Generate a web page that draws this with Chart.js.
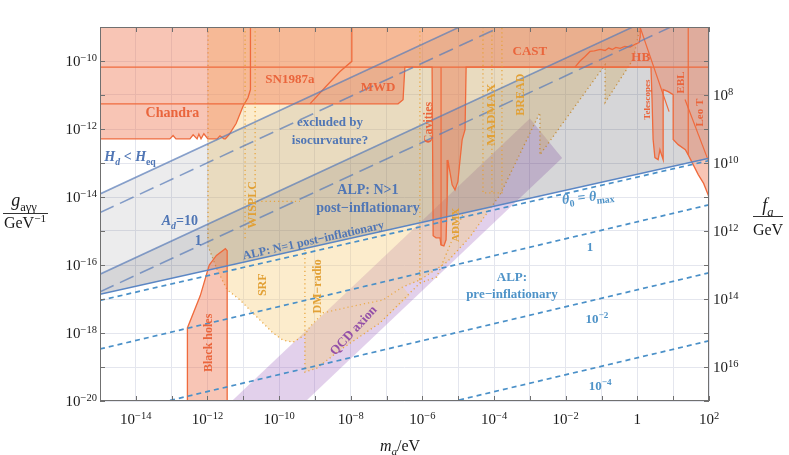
<!DOCTYPE html>
<html><head><meta charset="utf-8">
<script src="https://cdn.jsdelivr.net/npm/chart.js@4/dist/chart.umd.min.js"></script>
<style>html,body{margin:0;padding:0;background:#fff}</style>
</head><body>
<canvas id="c" width="789" height="455"></canvas>
<script>
// ---------- axis ranges (log10 values) ----------
const xRangeLog = [-15, 2];          // m_a / eV
const yRangeLog = [-20, -9];         // g_aγγ / GeV^-1
const faRangeLog = [6, 17];          // f_a / GeV (reversed)
const xTickExps = [-14, -12, -10, -8, -6, -4, -2, 0, 2];
const yTickExps = [-20, -18, -16, -14, -12, -10];
const faTickExps = [8, 10, 12, 14, 16];

// ---------- regions: [log10 m/eV, log10 g/GeV^-1] ----------
const orangeExcluded = [[-15,-9],[2,-9],[2,-14.0],[1.85,-13.6],[1.70,-13.34],[1.42,-12.76],[1.34,-12.61],[1.14,-12.46],[1.0,-12.31],[1.0,-10.99],[0.86,-10.90],[0.72,-10.84],[0.72,-12.90],[0.63,-12.61],[0.58,-12.90],[0.49,-12.84],[0.44,-12.31],[0.41,-11.14],[0.38,-10.18],
 [-4.78,-10.18],[-4.81,-12.02],[-4.89,-12.31],[-4.95,-12.91],[-5.01,-13.55],[-5.09,-13.79],[-5.17,-13.64],[-5.29,-12.91],[-5.31,-14.08],[-5.34,-15.26],[-5.40,-15.44],[-5.48,-15.41],[-5.51,-15.20],[-5.62,-15.20],[-5.70,-15.14],[-5.73,-10.18],
 [-6.49,-10.18],[-6.54,-11.14],[-6.68,-11.26],[-10.97,-11.26],[-11.01,-11.34],[-11.20,-11.84],[-11.40,-12.17],[-11.50,-12.29],[-11.54,-12.29],[-11.65,-12.20],[-11.73,-12.29],[-11.99,-12.29],[-12.10,-12.14],[-12.18,-12.29],[-12.24,-12.15],[-12.29,-12.29],[-12.40,-12.17],[-12.49,-12.29],[-12.88,-12.29],[-12.96,-12.19],[-13.05,-12.29],[-15,-12.29]];
const castLine = [[-15,-10.18],[2,-10.18]];
const snLine = [[-15,-11.26],[-10.97,-11.26]];
const chandraEdge = [[-10.80,-9],[-10.80,-10.84],[-10.87,-11.08],[-10.97,-11.26]];
const sn1987aEdge = [[-7.97,-9],[-7.97,-10.01],[-8.30,-10.31],[-8.72,-10.78],[-9.14,-11.26]];
const castCurve = [[-1.74,-10.18],[-1.6,-10.0],[-1.46,-9.87],[-1.32,-9.72],[-1.2,-9.70],[-1.04,-9.66],[-0.9,-9.69],[-0.8,-9.62],[-0.7,-9.66],[-0.6,-9.60],[-0.48,-9.63],[-0.35,-9.57],[-0.2,-9.59],[-0.05,-9.50],[0.05,-9.46],[0.075,-9.3],[0.08,-9]];
const telescopesLine = [[0.075,-9],[0.885,-11.49]];
const leoTLine = [[1.33,-11.13],[1.97,-12.90]];
const eblLine = [[1.42,-9],[1.42,-12.76]];
const cavityLine = [[-5.48,-10.18],[-5.48,-15.41]];
const blackHoles = [[-12.56,-20.3],[-12.56,-17.85],[-12.2,-16.9],[-11.95,-16.0],[-11.75,-15.72],[-11.5,-15.52],[-11.45,-15.58],[-11.45,-20.3]];
const haloscopeProj = [[-11.985,-9],[-11.985,-15.44],[-11.73,-16.14],[-11.45,-16.73],[-11.09,-17.03],[-10.62,-17.53],[-10.17,-18.0],[-9.89,-18.21],[-9.61,-18.27],[-9.28,-18.06],[-9.14,-17.82],[-8.77,-17.41],[-8.02,-17.23],[-7.10,-17.03],[-6.54,-16.64],[-6.07,-16.44],[-5.31,-15.91],[-4.67,-15.17],[-3.83,-13.93],[-2.72,-11.52],[-2.72,-12.76],[-0.90,-10.11],[-0.90,-11.22],[-0.12,-9.96],[0.075,-9]];
const dmRadioLow = [[-9.28,-18.06],[-9.28,-19.15],[-8.94,-19.03],[-8.30,-18.50],[-7.18,-17.70],[-6.35,-16.90],[-6.54,-16.64],[-7.10,-17.03],[-8.02,-17.23],[-8.77,-17.41],[-9.14,-17.82]];
const dmRadioEdge = [[-9.28,-15.55],[-9.28,-19.15],[-8.94,-19.03],[-8.30,-18.50],[-7.18,-17.70],[-6.07,-16.53],[-6.07,-16.15]];
const admxProj = [[-6.07,-16.53],[-5.6,-16.35],[-4.85,-14.45]];
const wisplcA = [[-10.95,-9],[-10.95,-15.26]];
const wisplcB = [[-10.67,-9],[-10.67,-14.13],[-9.42,-14.13]];
const cavitiesProj = [[-6.07,-9],[-6.07,-16.53]];
const madmaxBox = [[-4.31,-9],[-4.31,-13.88],[-3.78,-13.88],[-3.78,-9]];
const madmaxMid = [[-4.06,-9],[-4.06,-13.88]];
const qcdBand = [[-11.52,-20.2],[-3.0,-11.69],[-2.1,-12.85],[-9.45,-20.2]];
const greyIsocurv = [[-15,-16.86],[2,-12.86],[2,-9],[-4.95,-9],[-15,-13.91]];
const greyPostInfl = [[-15,-16.86],[2,-12.86],[2,-9],[-0.12,-9],[-15,-16.27]];
const lowerBoundary = [[-15,-16.86],[2,-12.86]];
const lineHeq = [[-15,-13.91],[-3,-8.04]];
const lineHeqDash = [[-15,-14.46],[0,-7.13]];
const lineAd10 = [[-15,-16.27],[2,-7.96]];
const lineAd1 = [[-15,-16.79],[2,-8.48]];
const thetaMax = [[-15,-17.04],[2,-12.93]];
const theta1 = [[-15,-18.47],[2,-14.23]];
const theta1e2 = [[-15,-20.47],[2,-16.23]];
const theta1e4 = [[-15,-22.47],[2,-18.23]];

// ---------- helpers ----------
const pw = v => Math.pow(10, v);
const toPts = arr => arr.map(p => ({x: pw(p[0]), y: pw(p[1])}));
function area(arr, fill, stroke, width, dash, order) {
  return {data: toPts(arr.concat([arr[0]])), fill: 'shape', backgroundColor: fill,
    borderColor: stroke || 'rgba(0,0,0,0)', borderWidth: stroke ? width : 0, borderDash: dash || [],
    order, pointRadius: 0, tension: 0, clip: 0};
}
function curve(arr, color, width, dash, order) {
  return {data: toPts(arr), fill: false, borderColor: color, borderWidth: width, borderDash: dash || [],
    order, pointRadius: 0, tension: 0, clip: 0};
}
const OR = '#ef6a3c', ORT = '#ea653c', YE = 'rgba(232,160,50,0.9)', YT = '#e2a136';
const BLT = '#5076b5', BDT = '#4f93c8', BLINE = 'rgba(90,125,185,0.72)', BDASH = '#4a90c8';

const datasets = [
  area(qcdBand, 'rgba(160,100,190,0.30)', null, 0, null, 100),
  area(haloscopeProj, 'rgba(247,205,120,0.38)', YE, 1.3, [1.2,3], 90),
  area(dmRadioLow, 'rgba(247,205,120,0.38)', null, 0, null, 89),
  curve(dmRadioEdge, YE, 1.3, [1.2,3], 88),
  curve(admxProj, YE, 1.3, [1.2,3], 88),
  area(greyIsocurv, 'rgba(40,40,50,0.085)', null, 0, null, 80),
  area(greyPostInfl, 'rgba(40,40,50,0.11)', null, 0, null, 79),
  area(orangeExcluded, 'rgba(238,110,70,0.40)', OR, 1.3, null, 60),
  area(blackHoles, 'rgba(238,110,70,0.40)', OR, 1.3, null, 59),
  curve(castLine, OR, 1.3, null, 50),
  curve(snLine, OR, 1.3, null, 50),
  curve(chandraEdge, OR, 1.3, null, 50),
  curve(sn1987aEdge, OR, 1.3, null, 50),
  curve(castCurve, OR, 1.3, null, 50),
  curve(telescopesLine, OR, 1.2, null, 50),
  curve(leoTLine, OR, 1.2, null, 50),
  curve(eblLine, OR, 1.2, null, 50),
  curve(cavityLine, OR, 1.2, null, 50),
  curve(wisplcA, YE, 1.3, [1.2,3], 40),
  curve(wisplcB, YE, 1.3, [1.2,3], 40),
  curve(cavitiesProj, YE, 1.3, [1.2,3], 40),
  curve(madmaxBox, YE, 1.3, [1.2,3], 40),
  curve(madmaxMid, YE, 1.3, [1.2,3], 40),
  curve(lineHeq, BLINE, 1.6, null, 10),
  curve(lineHeqDash, BLINE, 1.6, [15,7], 10),
  curve(lineAd10, BLINE, 1.6, null, 10),
  curve(lineAd1, BLINE, 1.6, [15,7], 10),
  curve(lowerBoundary, '#5b86c4', 1.6, null, 9),
  curve(thetaMax, BDASH, 1.7, [5,4], 8),
  curve(theta1, BDASH, 1.7, [5,4], 8),
  curve(theta1e2, BDASH, 1.7, [5,4], 8),
  curve(theta1e4, BDASH, 1.7, [5,4], 8),
];

// ---------- text labels (positions in log10 data coordinates) ----------
const textLabels = [
  {p:[['Chandra','']], at:[-12.98,-11.51], c:ORT, s:14},
  {p:[['SN1987a','']], at:[-9.70,-10.52], c:ORT, s:13},
  {p:[['MWD','']], at:[-7.24,-10.75], c:ORT, s:13},
  {p:[['CAST','']], at:[-3.0,-9.68], c:ORT, s:13},
  {p:[['HB','']], at:[0.094,-9.88], c:ORT, s:13},
  {p:[['Telescopes','']], at:[0.27,-11.135], c:ORT, s:9, r:-90},
  {p:[['EBL','']], at:[1.19,-10.63], c:ORT, s:11, r:-90},
  {p:[['Leo T','']], at:[1.72,-11.52], c:ORT, s:11, r:-90},
  {p:[['Cavities','']], at:[-5.84,-11.81], c:ORT, s:12, r:-90},
  {p:[['MADMAX','']], at:[-4.11,-11.58], c:YT, s:13, r:-90},
  {p:[['BREAD','']], at:[-3.27,-10.99], c:YT, s:12, r:-90},
  {p:[['WISPLC','']], at:[-10.76,-14.23], c:YT, s:12, r:-90},
  {p:[['SRF','']], at:[-10.49,-16.58], c:YT, s:12, r:-90},
  {p:[['DM\u2212radio','']], at:[-8.95,-16.63], c:YT, s:12, r:-90},
  {p:[['ADMX','']], at:[-5.09,-14.82], c:YT, s:11, r:-90},
  {p:[['QCD axion','']], at:[-7.94,-17.91], c:'#9450a8', s:13, r:-47},
  {p:[['Black holes','']], at:[-11.99,-18.29], c:ORT, s:12, r:-90},
  {p:[['excluded by','']], at:[-8.58,-11.77], c:BLT, s:13},
  {p:[['isocurvature?','']], at:[-8.58,-12.31], c:BLT, s:13},
  {p:[['H','i'],['d','isub'],[' < ',''],['H','i'],['eq','sub']], at:[-14.16,-12.81], c:BLT, s:14},
  {p:[['ALP: N>1','']], at:[-7.52,-13.76], c:BLT, s:14},
  {p:[['post\u2212inflationary','']], at:[-7.52,-14.29], c:BLT, s:14},
  {p:[['ALP: N=1 post\u2212inflationary','']], at:[-9.05,-15.26], c:BLT, s:12, r:-12.5},
  {p:[['A','i'],['d','isub'],['=10','']], at:[-12.77,-14.69], c:BLT, s:14},
  {p:[['1','']], at:[-12.26,-15.27], c:BLT, s:14},
  {p:[['\u03b8','i'],['0','sub'],[' = ',''],['\u03b8','i'],['max','sub']], at:[-1.38,-13.98], c:BDT, s:14, r:-6},
  {p:[['1','']], at:[-1.32,-15.46], c:BDT, s:13},
  {p:[['ALP:','']], at:[-3.50,-16.34], c:BDT, s:13},
  {p:[['pre\u2212inflationary','']], at:[-3.50,-16.85], c:BDT, s:13},
  {p:[['10',''],['\u22122','sup']], at:[-1.13,-17.56], c:BDT, s:13},
  {p:[['10',''],['\u22124','sup']], at:[-1.04,-19.53], c:BDT, s:13},
];

function drawRich(ctx, parts, x, y, o) {
  const size = o.size, fam = '"Liberation Serif", "DejaVu Serif", serif';
  const w8 = o.bold ? 'bold ' : '';
  const fontFor = m => {
    const small = m.includes('sub') || m.includes('sup');
    const sz = small ? size * 0.7 : size;
    return (m.includes('i') ? 'italic ' : '') + w8 + sz + 'px ' + fam;
  };
  let total = 0;
  const ws = parts.map(([t, m]) => { ctx.font = fontFor(m); const w = ctx.measureText(t).width; total += w; return w; });
  ctx.save();
  ctx.translate(x, y);
  if (o.rot) ctx.rotate(o.rot * Math.PI / 180);
  ctx.fillStyle = o.color; ctx.textBaseline = 'alphabetic'; ctx.textAlign = 'left';
  let cx = o.align === 'left' ? 0 : o.align === 'right' ? -total : -total / 2;
  const base = size * 0.35;
  parts.forEach(([t, m], i) => {
    ctx.font = fontFor(m);
    let dy = base;
    if (m.includes('sub')) dy += size * 0.25;
    if (m.includes('sup')) dy -= size * 0.38;
    ctx.fillText(t, cx, dy);
    cx += ws[i];
  });
  ctx.restore();
}
const expStr = e => (e < 0 ? '\u2212' : '') + Math.abs(e);
const powParts = e => e === 0 ? [['1', '']] : [['10', ''], [expStr(e), 'sup']];

const decor = {
  id: 'decor',
  afterDraw(chart) {
    const {ctx, chartArea: a, scales: {x, y, y2}} = chart;
    ctx.save();
    ctx.strokeStyle = '#707070'; ctx.lineWidth = 1;
    const seg = (x1, y1, x2, y2_) => { ctx.beginPath(); ctx.moveTo(x1, y1); ctx.lineTo(x2, y2_); ctx.stroke(); };
    for (let e = xRangeLog[0]; e <= xRangeLog[1]; e++) {
      const px = Math.round(x.getPixelForValue(pw(e))) + 0.5;
      seg(px, a.bottom, px, a.bottom - 5); seg(px, a.top, px, a.top + 5);
    }
    for (let e = yRangeLog[0]; e <= yRangeLog[1]; e++) {
      const py = Math.round(y.getPixelForValue(pw(e))) + 0.5;
      seg(a.left, py, a.left + 5, py);
    }
    for (let e = faRangeLog[0]; e <= faRangeLog[1]; e++) {
      const py = Math.round(y2.getPixelForValue(pw(e))) + 0.5;
      seg(a.right, py, a.right - 5, py);
    }
    ctx.strokeRect(a.left + 0.5, a.top + 0.5, a.right - a.left - 1, a.bottom - a.top - 1);
    ctx.restore();
    // tick labels
    xTickExps.forEach(e => drawRich(ctx, powParts(e), x.getPixelForValue(pw(e)), 419, {size: 15, color: '#1a1a1a', align: 'center'}));
    yTickExps.forEach(e => drawRich(ctx, powParts(e), 97, y.getPixelForValue(pw(e)), {size: 15, color: '#1a1a1a', align: 'right'}));
    faTickExps.forEach(e => drawRich(ctx, powParts(e), 713, y2.getPixelForValue(pw(e)), {size: 15, color: '#1a1a1a', align: 'left'}));
    // axis titles
    drawRich(ctx, [['g', 'i'], ['a\u03b3\u03b3', 'sub']], 24, 200, {size: 18, color: '#1a1a1a'});
    drawRich(ctx, [['GeV', ''], ['\u22121', 'sup']], 25, 222, {size: 16, color: '#1a1a1a'});
    drawRich(ctx, [['f', 'i'], ['a', 'isub']], 768, 205, {size: 18, color: '#1a1a1a'});
    drawRich(ctx, [['GeV', '']], 768, 229, {size: 16, color: '#1a1a1a'});
    drawRich(ctx, [['m', 'i'], ['a', 'isub'], ['/eV', '']], 400, 445, {size: 16, color: '#1a1a1a'});
    ctx.save(); ctx.strokeStyle = '#333'; ctx.lineWidth = 1;
    ctx.beginPath(); ctx.moveTo(3, 213.5); ctx.lineTo(48, 213.5); ctx.moveTo(753, 216.5); ctx.lineTo(783, 216.5); ctx.stroke();
    ctx.restore();
    // region labels
    textLabels.forEach(l => drawRich(ctx, l.p, x.getPixelForValue(pw(l.at[0])), y.getPixelForValue(pw(l.at[1])),
      {size: l.s, color: l.c, rot: l.r || 0, bold: true, align: 'center'}));
  }
};

const decadeTicks = (lo, hi) => { const t = []; for (let e = lo; e <= hi; e++) t.push({value: pw(e)}); return t; };

new Chart(document.getElementById('c'), {
  type: 'line',
  data: {datasets},
  options: {
    responsive: false, animation: false, devicePixelRatio: 1,
    layout: {padding: {top: 27, left: 0, right: 0, bottom: 0}},
    plugins: {legend: {display: false}, tooltip: {enabled: false}},
    elements: {point: {radius: 0}},
    scales: {
      x: {type: 'logarithmic', min: pw(xRangeLog[0]), max: pw(xRangeLog[1]), bounds: 'data',
        afterBuildTicks: s => { s.ticks = decadeTicks(xRangeLog[0], xRangeLog[1]); },
        ticks: {display: false}, grid: {color: '#e4e6ee', drawTicks: false}, border: {display: false},
        afterFit: s => { s.height = 54; }},
      y: {type: 'logarithmic', position: 'left', min: pw(yRangeLog[0]), max: pw(yRangeLog[1]), bounds: 'data',
        afterBuildTicks: s => { s.ticks = decadeTicks(yRangeLog[0], yRangeLog[1]); },
        ticks: {display: false}, grid: {color: '#e4e6ee', drawTicks: false}, border: {display: false},
        afterFit: s => { s.width = 100; }},
      y2: {type: 'logarithmic', position: 'right', reverse: true, min: pw(faRangeLog[0]), max: pw(faRangeLog[1]), bounds: 'data',
        afterBuildTicks: s => { s.ticks = decadeTicks(faRangeLog[0], faRangeLog[1]); },
        ticks: {display: false}, grid: {display: false, drawTicks: false}, border: {display: false},
        afterFit: s => { s.width = 80; }}
    }
  },
  plugins: [decor]
});
</script>
</body></html>
